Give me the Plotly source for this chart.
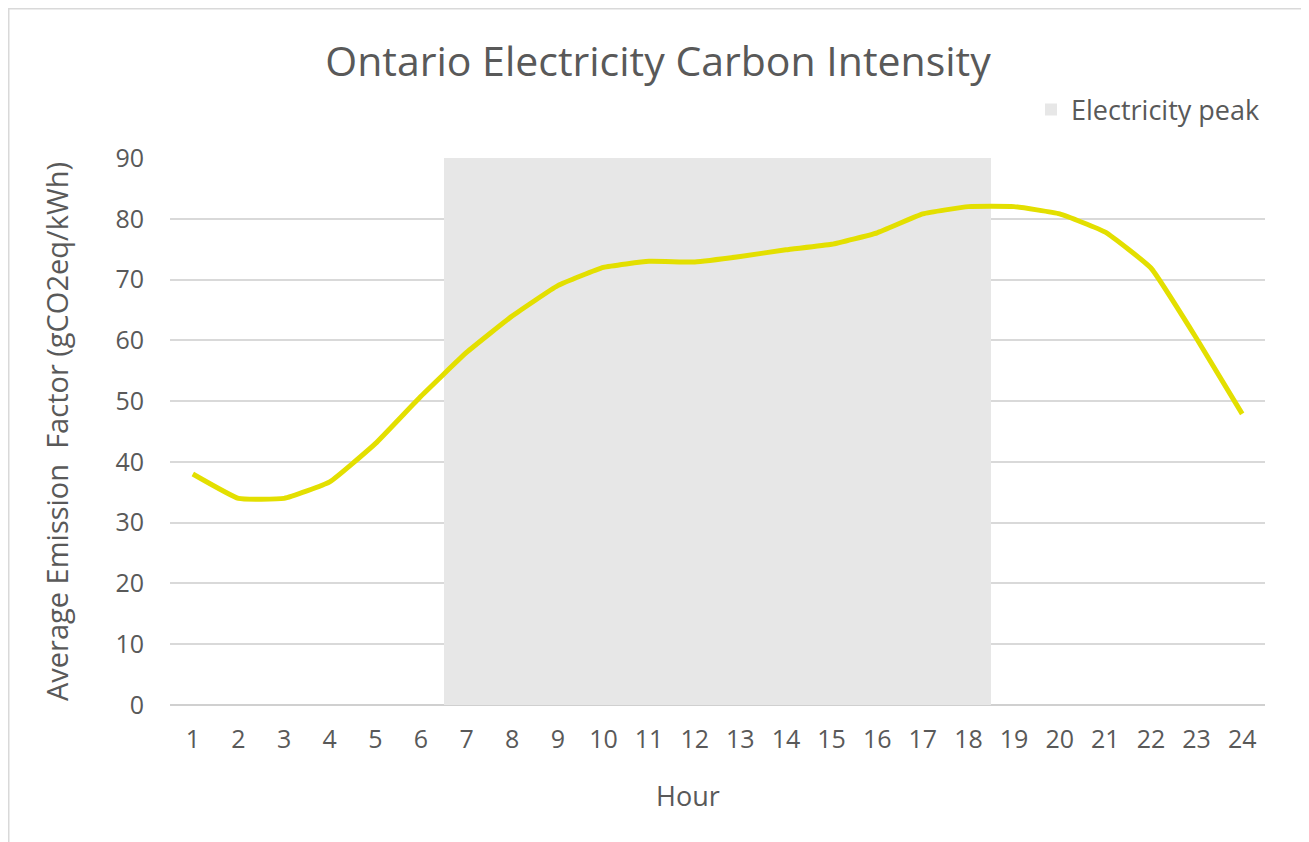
import plotly.graph_objects as go

hours = list(range(1, 25))
intensity = [38, 34, 34, 36.7, 43, 50.8, 58, 64, 69, 72, 73, 72.9, 73.8, 74.9, 75.8, 77.7, 80.8, 82, 82, 80.8, 77.8, 71.9, 60.3, 47.9]
peak = [None] * 6 + [90] * 12 + [None] * 6

title = "Ontario Electricity Carbon Intensity"
y_title = "Average Emission  Factor (gCO2eq/kWh)"
x_title = "Hour"

W, H = 1301, 834
L, R, T, B = 162, 44, 150, 137
pw = W - L - R
ph = H - T - B

grey = "#595959"
font = "Open Sans"

fig = go.Figure()
fig.add_trace(go.Bar(x=hours, y=peak, width=1, name="Electricity peak",
                     marker=dict(color="#e7e7e7", line=dict(width=0)),
                     hoverinfo="skip", showlegend=True))
fig.add_trace(go.Scatter(x=hours, y=intensity, mode="lines", name="Carbon intensity",
                         line=dict(color="#e3df00", width=5, shape="spline", smoothing=0.35),
                         showlegend=False))

fig.update_layout(
    width=W, height=H,
    margin=dict(l=L, r=R, t=T, b=B, autoexpand=False),
    paper_bgcolor="white", plot_bgcolor="white",
    font=dict(family=font, color=grey, size=25),
    title=dict(text=title, x=650 / W, xref="container", xanchor="center", y=1 - 54 / H, yanchor="middle",
               font=dict(size=41, color=grey, family=font)),
    legend=dict(x=(1023 - L) / pw, y=(697 - 102) / ph, xanchor="left", yanchor="middle",
                font=dict(size=27, color=grey), bgcolor="rgba(0,0,0,0)", itemwidth=30),
    bargap=0,
    xaxis=dict(range=[0.5, 24.5], tickmode="array", tickvals=hours, ticktext=[str(h) for h in hours],
               showgrid=False, showline=False, zeroline=False, ticks="",
               ticklabelstandoff=17, tickfont=dict(size=25, color=grey)),
    yaxis=dict(range=[0, 90], dtick=10, showgrid=True, gridcolor="#d9d9d9", gridwidth=1.5,
               zeroline=True, zerolinecolor="#d0d0d0", zerolinewidth=2, showline=False, ticks="",
               ticklabelstandoff=25, tickfont=dict(size=25, color=grey),
               title=dict(text=y_title, standoff=38, font=dict(size=29, color=grey))),
)

fig.add_annotation(text=x_title, xref="paper", yref="paper", x=(680 - L) / pw, y=(697 - 787) / ph,
                   xanchor="center", yanchor="middle", showarrow=False,
                   font=dict(size=27, color=grey, family=font))

fig.add_shape(type="rect", xref="paper", yref="paper",
              x0=(0.75 - L) / pw, x1=(1294 - L) / pw, y0=(697 - 900) / ph, y1=(697 - 0.75) / ph,
              line=dict(color="#d9d9d9", width=1.5), fillcolor="rgba(0,0,0,0)", layer="below")

fig.write_html("out.html")
